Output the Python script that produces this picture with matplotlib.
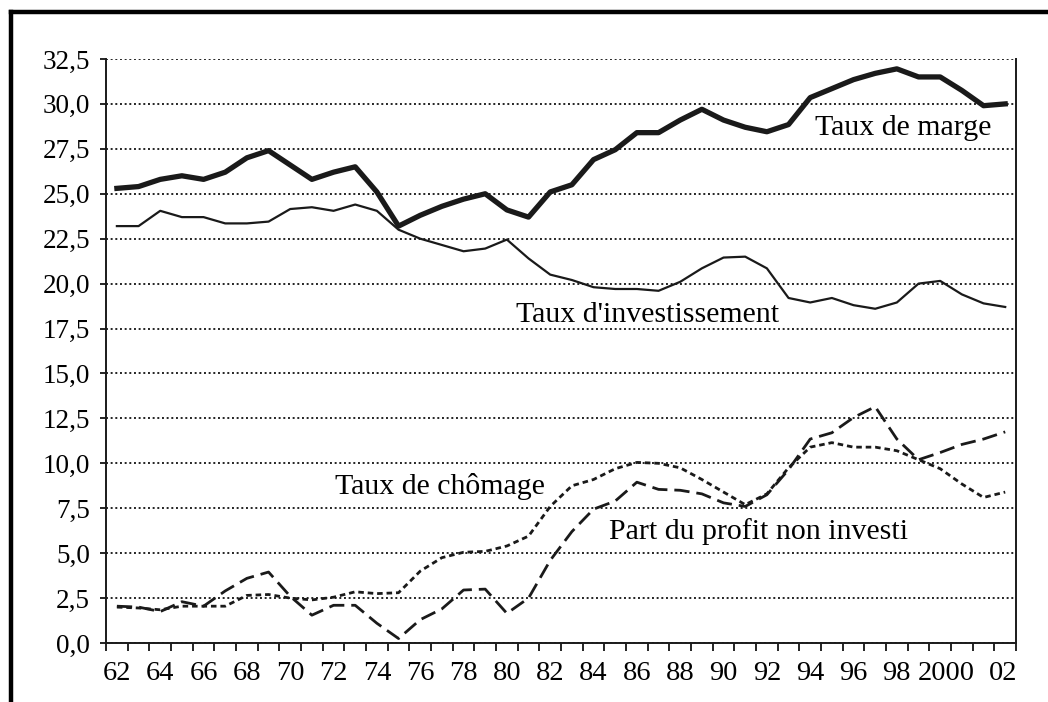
import matplotlib.pyplot as plt
from matplotlib.lines import Line2D

plt.rcParams['font.family'] = ['Liberation Serif', 'DejaVu Serif']

# Data (1962-2003)
years = list(range(1962, 2004))

taux_marge = [25.3, 25.4, 25.8, 26.0, 25.8, 26.2, 27.0, 27.4, 26.6, 25.8,
              26.2, 26.5, 25.1, 23.2, 23.8, 24.3, 24.7, 25.0, 24.1, 23.7,
              25.1, 25.5, 26.9, 27.45, 28.4, 28.4, 29.1, 29.7, 29.1, 28.7,
              28.45, 28.85, 30.35, 30.85, 31.35, 31.7, 31.95, 31.5, 31.5, 30.75,
              29.9, 30.0]

taux_invest = [23.2, 23.2, 24.05, 23.7, 23.7, 23.35, 23.35, 23.45, 24.15, 24.25,
               24.05, 24.4, 24.05, 23.0, 22.5, 22.15, 21.8, 21.95, 22.45, 21.4,
               20.5, 20.2, 19.8, 19.7, 19.7, 19.6, 20.1, 20.85, 21.45, 21.5,
               20.85, 19.2, 18.95, 19.2, 18.8, 18.6, 18.95, 20.0, 20.15, 19.4,
               18.9, 18.7]

taux_chomage = [2.0, 1.95, 1.85, 2.05, 2.05, 2.05, 2.65, 2.7, 2.5, 2.4,
                2.55, 2.85, 2.75, 2.8, 4.0, 4.75, 5.05, 5.1, 5.4, 5.95,
                7.6, 8.75, 9.1, 9.7, 10.05, 10.0, 9.75, 9.1, 8.4, 7.7,
                8.3, 9.75, 10.9, 11.15, 10.9, 10.9, 10.7, 10.2, 9.7, 8.85,
                8.1, 8.4]

profit_non_investi = [2.05, 2.0, 1.75, 2.3, 2.05, 2.9, 3.6, 3.95, 2.6, 1.55,
                      2.1, 2.1, 1.1, 0.25, 1.3, 1.9, 2.95, 3.0, 1.65, 2.5,
                      4.6, 6.2, 7.45, 7.9, 8.95, 8.55, 8.5, 8.3, 7.8, 7.6,
                      8.25, 9.65, 11.35, 11.7, 12.55, 13.15, 11.35, 10.2, 10.6, 11.05,
                      11.35, 11.75]

y_ticks = [0, 2.5, 5, 7.5, 10, 12.5, 15, 17.5, 20, 22.5, 25, 27.5, 30, 32.5]
y_labels = ["0,0", "2,5", "5,0", "7,5", "10,0", "12,5", "15,0", "17,5",
            "20,0", "22,5", "25,0", "27,5", "30,0", "32,5"]

x_labels = ["62", "64", "66", "68", "70", "72", "74", "76", "78", "80",
            "82", "84", "86", "88", "90", "92", "94", "96", "98", "2000", "02"]
x_label_pos = list(range(1962, 2000, 2)) + [2000.3, 2002.9]

fig = plt.figure(figsize=(10.48, 7.02), dpi=100)
ax = fig.add_axes([0.1012, 0.0840, 0.8683, 0.8320])

ink = '#1a1a1a'
ax.plot(years, taux_marge, color=ink, lw=3.8, solid_joinstyle='round')
ax.plot(years, taux_invest, color=ink, lw=1.6)
ax.plot(years, taux_chomage, color=ink, lw=2.0, dashes=(2.0, 1.4))
ax.plot(years, profit_non_investi, color=ink, lw=2.0, dashes=(5.5, 2.5))

ax.set_xlim(1961.5, 2003.5)
ax.set_ylim(0, 32.5)

ax.set_yticks(y_ticks)
ax.set_yticklabels(y_labels)
ax.yaxis.grid(True, linestyle=(0, (1, 1.4)), color='#222222', lw=1.4)
ax.set_axisbelow(True)

ax.set_xticks(x_label_pos)
ax.set_xticklabels(x_labels)
ax.set_xticks([y + 0.5 for y in range(1961, 2004)], minor=True)
ax.tick_params(axis='x', which='major', length=0, pad=13, labelsize=20.5)
ax.tick_params(axis='x', which='minor', length=5.5, width=1.2, direction='out')
ax.tick_params(axis='y', length=4.5, width=1.2, pad=7, labelsize=19.5)

ax.spines['top'].set_visible(False)
for side in ['left', 'right', 'bottom']:
    ax.spines[side].set_linewidth(1.4)
    ax.spines[side].set_color(ink)

ax.text(1998.3, 28.66, "Taux de marge", fontsize=21.5, ha='center', va='center')
ax.text(1986.5, 18.25, "Taux d'investissement", fontsize=21.5, ha='center', va='center')
ax.text(1976.9, 8.72, "Taux de chômage", fontsize=21.5, ha='center', va='center')
ax.text(1991.6, 6.18, "Part du profit non investi", fontsize=21.5, ha='center', va='center')

# scanned frame (left and top edges)
fx = 10.5 / 1048
fy = 1 - 12 / 702
fig.add_artist(Line2D([fx, fx], [0, fy], transform=fig.transFigure, color='black', lw=3.2))
fig.add_artist(Line2D([fx, 1], [fy, fy], transform=fig.transFigure, color='black', lw=3.2))

fig.savefig("out.png", dpi=100)
